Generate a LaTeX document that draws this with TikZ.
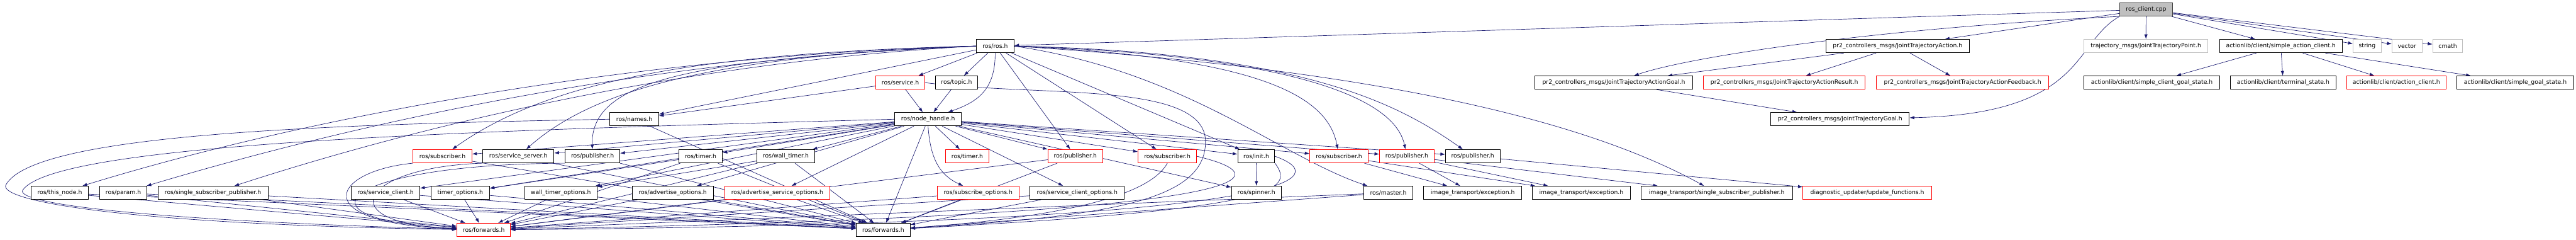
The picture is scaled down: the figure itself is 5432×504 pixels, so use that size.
\documentclass[tikz,border=0pt]{standalone}
\usepackage{fontspec}
\setmainfont{DejaVu Sans}
\usetikzlibrary{arrows.meta,backgrounds}
\definecolor{edgeblue}{HTML}{191970}
\definecolor{boxred}{HTML}{FF0000}
\definecolor{boxgray}{HTML}{BFBFBF}
\definecolor{boxdark}{HTML}{404040}

\begin{document}
\begin{tikzpicture}[x=1pt, y=1pt, >={Latex[length=10pt,width=7pt]},
  hdr/.style={draw=black, line width=1.2pt, fill=white, minimum height=28pt, inner sep=2pt, font=\fontsize{12.3}{14}\selectfont},
  redhdr/.style={hdr, draw=boxred},
  exthdr/.style={hdr, draw=boxgray},
  srchdr/.style={hdr, draw=boxdark, fill=boxgray},
  dep/.style={->, draw=edgeblue, line width=0.9pt}]
  \useasboundingbox (0,0) rectangle (5432,-504);

  % rank 0
  \node[srchdr, minimum width=111pt] (cpp) at (4525.5,-20) {ros\_client.cpp};

  % rank 1
  \node[hdr, minimum width=79pt] (ros) at (2098.5,-97) {ros/ros.h};
  \node[hdr, minimum width=303pt] (jta) at (4001.5,-97) {pr2\_controllers\_msgs/JointTrajectoryAction.h};
  \node[exthdr, minimum width=262pt] (jtp) at (4525,-97) {trajectory\_msgs/JointTrajectoryPoint.h};
  \node[hdr, minimum width=259pt] (sac) at (4809.5,-97) {actionlib/client/simple\_action\_client.h};
  \node[exthdr, minimum width=59pt] (str) at (4991.5,-97) {string};
  \node[exthdr, minimum width=63pt] (vec) at (5075.5,-97) {vector};
  \node[exthdr, minimum width=63pt] (cmath) at (5161.5,-97) {cmath};

  % rank 2
  \node[redhdr, minimum width=103pt] (srv) at (1898.5,-174) {ros/service.h};
  \node[hdr, minimum width=90pt] (topic) at (2017,-174) {ros/topic.h};
  \node[hdr, minimum width=332pt] (jtag) at (3403,-174) {pr2\_controllers\_msgs/JointTrajectoryActionGoal.h};
  \node[redhdr, minimum width=341pt] (jtar) at (3762.5,-174) {pr2\_controllers\_msgs/JointTrajectoryActionResult.h};
  \node[redhdr, minimum width=363pt] (jtaf) at (4138.5,-174) {pr2\_controllers\_msgs/JointTrajectoryActionFeedback.h};
  \node[hdr, minimum width=287pt] (scgs) at (4537.5,-174) {actionlib/client/simple\_client\_goal\_state.h};
  \node[hdr, minimum width=223pt] (term) at (4814.5,-174) {actionlib/client/terminal\_state.h};
  \node[redhdr, minimum width=210pt] (acl) at (5053,-174) {actionlib/client/action\_client.h};
  \node[hdr, minimum width=246pt] (sgs) at (5304,-174) {actionlib/client/simple\_goal\_state.h};

  % rank 3
  \node[hdr, minimum width=103pt] (names) at (1337.5,-251) {ros/names.h};
  \node[hdr, minimum width=140pt] (nh) at (1957,-251) {ros/node\_handle.h};
  \node[hdr, minimum width=292pt] (jtg) at (3880,-251) {pr2\_controllers\_msgs/JointTrajectoryGoal.h};

  % rank 4
  \node[redhdr, minimum width=124pt] (sub1) at (933,-329) {ros/subscriber.h};
  \node[hdr, minimum width=150pt] (ssrv) at (1093,-329) {ros/service\_server.h};
  \node[hdr, minimum width=115pt] (pub1) at (1249.5,-329) {ros/publisher.h};
  \node[hdr, minimum width=91pt] (tmr1) at (1477.5,-329) {ros/timer.h};
  \node[hdr, minimum width=122pt] (wtmr) at (1657,-329) {ros/wall\_timer.h};
  \node[redhdr, minimum width=91pt] (tmr2) at (2039.5,-329) {ros/timer.h};
  \node[redhdr, minimum width=115pt] (pubr1) at (2267.5,-329) {ros/publisher.h};
  \node[redhdr, minimum width=123pt] (sub2) at (2461.5,-329) {ros/subscriber.h};
  \node[hdr, minimum width=78pt] (init) at (2649,-329) {ros/init.h};
  \node[redhdr, minimum width=123pt] (sub3) at (2823.5,-329) {ros/subscriber.h};
  \node[redhdr, minimum width=115pt] (pubr2) at (2966.5,-329) {ros/publisher.h};
  \node[hdr, minimum width=115pt] (pub2) at (3105.5,-329) {ros/publisher.h};

  % rank 5
  \node[hdr, minimum width=120pt] (thisnode) at (126,-406) {ros/this\_node.h};
  \node[hdr, minimum width=100pt] (param) at (260,-406) {ros/param.h};
  \node[hdr, minimum width=232pt] (sspub) at (449,-406) {ros/single\_subscriber\_publisher.h};
  \node[hdr, minimum width=144pt] (scl) at (813,-406) {ros/service\_client.h};
  \node[hdr, minimum width=123pt] (topts) at (970.5,-406) {timer\_options.h};
  \node[hdr, minimum width=153pt] (wtopts) at (1182.5,-406) {wall\_timer\_options.h};
  \node[hdr, minimum width=171pt] (advo) at (1418.5,-406) {ros/advertise\_options.h};
  \node[redhdr, minimum width=222pt] (advso) at (1639,-406) {ros/advertise\_service\_options.h};
  \node[redhdr, minimum width=173pt] (subo) at (2062.5,-406) {ros/subscribe\_options.h};
  \node[hdr, minimum width=199pt] (sclo) at (2271.5,-406) {ros/service\_client\_options.h};
  \node[hdr, minimum width=105pt] (spin) at (2649.5,-406) {ros/spinner.h};
  \node[hdr, minimum width=103pt] (master) at (2927.5,-406) {ros/master.h};
  \node[hdr, minimum width=207pt] (exc1) at (3105.5,-406) {image\_transport/exception.h};
  \node[hdr, minimum width=207pt] (exc2) at (3334.5,-406) {image\_transport/exception.h};
  \node[hdr, minimum width=320pt] (itssp) at (3620,-406) {image\_transport/single\_subscriber\_publisher.h};
  \node[redhdr, minimum width=271pt] (diag) at (3937.5,-406) {diagnostic\_updater/update\_functions.h};

  % rank 6
  \node[redhdr, minimum width=112pt] (fwd1) at (1020,-484) {ros/forwards.h};
  \node[hdr, minimum width=113pt] (fwd2) at (1862.5,-484) {ros/forwards.h};

  \begin{scope}[on background layer]
  % ros_client.cpp
  \draw[dep] (cpp) -- (ros);
  \draw[dep] (cpp) -- (jta);
  \draw[dep] (cpp.south west) .. controls (3950,-60) and (3560,-120) .. (jtag);
  \draw[dep] (cpp.south west) .. controls (4370,-90) and (4400,-240) .. (jtg);
  \draw[dep] (cpp) -- (jtp);
  \draw[dep] (cpp) -- (sac);
  \draw[dep] (cpp) -- (str);
  \draw[dep] (cpp) -- (vec);
  \draw[dep] (cpp) -- (cmath);
  \draw[dep] (jta) -- (jtag);
  \draw[dep] (jta) -- (jtar);
  \draw[dep] (jta) -- (jtaf);
  \draw[dep] (jtag) -- (jtg);
  \draw[dep] (sac) -- (scgs);
  \draw[dep] (sac) -- (term);
  \draw[dep] (sac) -- (acl);
  \draw[dep] (sac) -- (sgs);

  % ros.h
  \draw[dep] (ros) -- (srv);
  \draw[dep] (ros) -- (topic);
  \draw[dep] (ros.south) .. controls (2099,-190) and (2060,-215) .. (nh);
  \draw[dep] (srv) -- (nh);
  \draw[dep] (topic) -- (nh);
  \draw[dep] (ros) -- (names);
  \draw[dep] (srv) -- (names);
  \draw[dep] (ros.west) .. controls (1400,-115) and (700,-230) .. (thisnode);
  \draw[dep] (ros.west) .. controls (1400,-122) and (800,-245) .. (param);
  \draw[dep] (ros.west) .. controls (1450,-130) and (900,-260) .. (sspub);
  \draw[dep] (ros.west) .. controls (1450,-112) and (1150,-175) .. (sub1);
  \draw[dep] (ros.west) .. controls (1500,-118) and (1250,-190) .. (ssrv);
  \draw[dep] (ros.west) .. controls (1450,-125) and (1245,-170) .. (pub1);
  \draw[dep] (ros) -- (pubr1);
  \draw[dep] (ros) -- (sub2);
  \draw[dep] (ros) -- (init);
  \draw[dep] (ros.east) .. controls (2650,-120) and (2800,-200) .. (sub3);
  \draw[dep] (ros.east) .. controls (2700,-115) and (2940,-200) .. (pubr2);
  \draw[dep] (ros.east) .. controls (2750,-110) and (2950,-220) .. (pub2);
  \draw[dep] (ros.east) .. controls (2500,-150) and (2700,-330) .. (master);
  \draw[dep] (ros.east) .. controls (2800,-140) and (3300,-230) .. (itssp);

  % node_handle.h
  \draw[dep] (nh) -- (sub1);
  \draw[dep] (nh) -- (ssrv);
  \draw[dep] (nh) -- (pub1);
  \draw[dep] (nh) -- (tmr1);
  \draw[dep] (nh) -- (wtmr);
  \draw[dep] (nh) -- (tmr2);
  \draw[dep] (nh) -- (pubr1);
  \draw[dep] (nh) -- (sub2);
  \draw[dep] (nh) -- (init);
  \draw[dep] (nh) -- (sub3);
  \draw[dep] (nh) -- (pubr2);
  \draw[dep] (nh) -- (pub2);
  \draw[dep] (nh) -- (scl);
  \draw[dep] (nh) -- (topts);
  \draw[dep] (nh) -- (wtopts);
  \draw[dep] (nh) -- (advo);
  \draw[dep] (nh) -- (advso);
  \draw[dep] (nh.south) .. controls (1962,-340) and (1985,-370) .. (subo);
  \draw[dep] (nh) -- (sclo);
  \draw[dep] (nh) -- (spin);
  \draw[dep] (nh) -- (fwd2);
  \draw[dep] (nh.west) .. controls (1000,-275) and (120,-300) .. (48,-400) .. controls (30,-428) and (300,-464) .. (fwd1);
  \draw[dep] (names.west) .. controls (700,-262) and (70,-280) .. (12,-390) .. controls (0,-422) and (250,-472) .. (fwd1);
  \draw[dep] (names) -- (fwd2);
  \draw[dep] (srv.east) .. controls (2200,-205) and (2545,-170) .. (2542,-300) .. controls (2540,-420) and (2350,-455) .. (fwd2);

  % rank 4 to rank 5
  \draw[dep] (tmr1) -- (topts);
  \draw[dep] (wtmr) -- (wtopts);
  \draw[dep] (init) -- (spin);
  \draw[dep] (sub3) -- (exc1);
  \draw[dep] (sub3) -- (exc2);
  \draw[dep] (pubr2) -- (exc1);
  \draw[dep] (pubr2) -- (exc2);
  \draw[dep] (pubr2) -- (itssp);
  \draw[dep] (pub2) -- (diag);

  % ros/forwards.h
  \draw[dep] (thisnode) -- (fwd1);
  \draw[dep] (thisnode) -- (fwd2);
  \draw[dep] (param) -- (fwd1);
  \draw[dep] (param) -- (fwd2);
  \draw[dep] (sspub) -- (fwd1);
  \draw[dep] (sspub) -- (fwd2);
  \draw[dep] (scl) -- (fwd1);
  \draw[dep] (scl) -- (fwd2);
  \draw[dep] (topts) -- (fwd1);
  \draw[dep] (topts) -- (fwd2);
  \draw[dep] (wtopts) -- (fwd1);
  \draw[dep] (wtopts) -- (fwd2);
  \draw[dep] (advo) -- (fwd1);
  \draw[dep] (advo) -- (fwd2);
  \draw[dep] (advso) -- (fwd1);
  \draw[dep] (advso) -- (fwd2);
  \draw[dep] (subo) -- (fwd1);
  \draw[dep] (subo) -- (fwd2);
  \draw[dep] (sclo) -- (fwd1);
  \draw[dep] (sclo) -- (fwd2);
  \draw[dep] (sub1.south west) .. controls (700,-360) and (640,-470) .. (fwd1);
  \draw[dep] (sub1) -- (fwd2);
  \draw[dep] (ssrv.south west) .. controls (760,-352) and (690,-470) .. (fwd1);
  \draw[dep] (ssrv) -- (fwd2);
  \draw[dep] (pub1.south west) .. controls (720,-346) and (600,-462) .. (fwd1);
  \draw[dep] (pub1) -- (fwd2);
  \draw[dep] (tmr1) -- (fwd1);
  \draw[dep] (tmr1) -- (fwd2);
  \draw[dep] (wtmr) -- (fwd1);
  \draw[dep] (wtmr) -- (fwd2);
  \draw[dep] (pubr1) -- (fwd1);
  \draw[dep] (pubr1) -- (fwd2);
  \draw[dep] (sub2.east) .. controls (2740,-380) and (2600,-455) .. (fwd1);
  \draw[dep] (sub2.south) .. controls (2420,-420) and (2200,-460) .. (fwd2);
  \draw[dep] (init.east) .. controls (2830,-380) and (2700,-470) .. (fwd1);
  \draw[dep] (init.south east) .. controls (2730,-400) and (2700,-440) .. (fwd2);
  \draw[dep] (master) -- (fwd1);
  \draw[dep] (master) -- (fwd2);
  \end{scope}
\end{tikzpicture}
\end{document}
